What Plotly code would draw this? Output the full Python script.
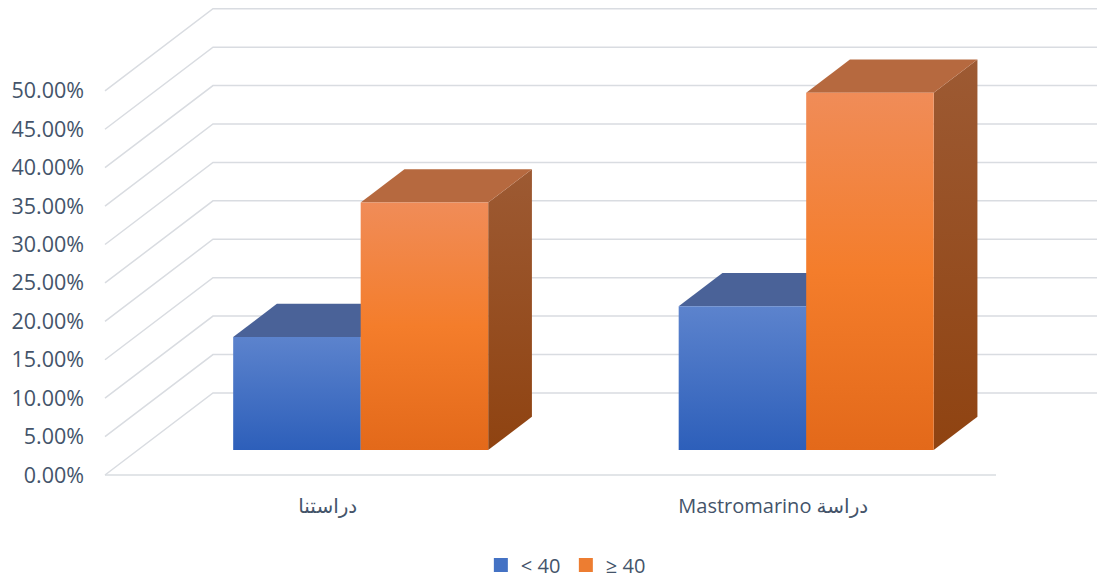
import plotly.graph_objects as go

# ---- data -------------------------------------------------------------
categories = ["دراستنا", "\u202bدراسة Mastromarino\u202c"]
series_names = ["< 40", "≥ 40"]
under_40 = [14.7, 18.7]
over_40 = [32.2, 46.5]
tick_values = [0, 5, 10, 15, 20, 25, 30, 35, 40, 45, 50]
tick_labels = [f"{v:.2f}%" for v in tick_values]

# ---- oblique 3-D projection (x in category units, y in percent units) --
DEPTH_X = 0.2424      # horizontal shift of the full floor depth
DEPTH_Y = 10.68       # vertical shift of the full floor depth
BAR_FRONT = 0.305     # depth fraction of the bars' front faces
BAR_BACK = 0.71       # depth fraction of the bars' back faces
BAR_W = 0.2862        # width of one bar's front face
X_MIN, X_MAX = -0.5112, 1.7267
Y_MIN, Y_MAX = -0.65, 61.3

TEXT = "#44546A"
FONT = "Open Sans, Noto Sans, DejaVu Sans, sans-serif"

styles = {
    "< 40": dict(
        legend="#4472C4",
        front=[[0, "#2D5FBA"], [1, "#5C83CD"]],
        top=[[0, "#4A6298"], [1, "#4A6298"]],
        side=[[0, "#23488C"], [1, "#3A5A9A"]],
    ),
    "≥ 40": dict(
        legend="#ED7D31",
        front=[[0, "#E3691A"], [0.5, "#F47D2B"], [1, "#F08C58"]],
        top=[[0, "#B6693F"], [1, "#B6693F"]],
        side=[[0, "#8F4311"], [1, "#9D5A33"]],
    ),
}

fig = go.Figure()

grid = dict(color="#D9DCE1", width=1.5)
# back-wall gridlines with their diagonal run across the floor side
for v in tick_values:
    fig.add_trace(go.Scatter(
        x=[-0.5, -0.5 + DEPTH_X, X_MAX],
        y=[v, v + DEPTH_Y, v + DEPTH_Y],
        mode="lines", line=grid, hoverinfo="skip", showlegend=False))
# front edge of the floor
fig.add_trace(go.Scatter(
    x=[-0.5, 1.5], y=[0, 0], mode="lines", line=grid,
    hoverinfo="skip", showlegend=False))


def face(xs, ys, scale):
    fig.add_trace(go.Scatter(
        x=xs + [xs[0]], y=ys + [ys[0]], mode="lines", fill="toself",
        fillgradient=dict(type="vertical", colorscale=scale),
        line=dict(width=0, color="rgba(0,0,0,0)"),
        hoverinfo="skip", showlegend=False))


def add_bar(x0, value, st):
    x1 = x0 + BAR_W
    fx, fy = BAR_FRONT * DEPTH_X, BAR_FRONT * DEPTH_Y
    bx, by = BAR_BACK * DEPTH_X, BAR_BACK * DEPTH_Y
    # right side
    face([x1 + fx, x1 + bx, x1 + bx, x1 + fx],
         [fy, by, by + value, fy + value], st["side"])
    # top
    face([x0 + fx, x1 + fx, x1 + bx, x0 + bx],
         [fy + value, fy + value, by + value, by + value], st["top"])
    # front
    face([x0 + fx, x1 + fx, x1 + fx, x0 + fx],
         [fy, fy, fy + value, fy + value], st["front"])


for i in range(len(categories)):
    add_bar(i - BAR_W, under_40[i], styles["< 40"])
    add_bar(i, over_40[i], styles["≥ 40"])

# legend entries
for name in series_names:
    fig.add_trace(go.Scatter(
        x=[None], y=[None], mode="markers", name=name,
        marker=dict(symbol="square", size=14, color=styles[name]["legend"])))

fig.update_layout(
    width=1097, height=579,
    margin=dict(l=100, r=0, t=4, b=99, autoexpand=False),
    paper_bgcolor="white", plot_bgcolor="white",
    font=dict(family=FONT, color=TEXT, size=19),
    showlegend=True,
    legend=dict(orientation="h", x=0.382, xanchor="left",
                y=-0.1786, yanchor="middle", entrywidth=40,
                font=dict(size=20, color=TEXT), itemwidth=30),
    xaxis=dict(range=[X_MIN, X_MAX], showgrid=False, zeroline=False,
               showline=False, tickvals=[0, 1], ticktext=categories,
               ticks="", ticklabelstandoff=12, automargin=False,
               tickfont=dict(size=20, color=TEXT)),
    yaxis=dict(range=[Y_MIN, Y_MAX], showgrid=False, zeroline=False,
               showline=False, tickvals=tick_values, ticktext=tick_labels,
               ticks="", ticklabelstandoff=15, automargin=False,
               tickfont=dict(size=21.5, color=TEXT)),
)

fig.write_html("out.html")
